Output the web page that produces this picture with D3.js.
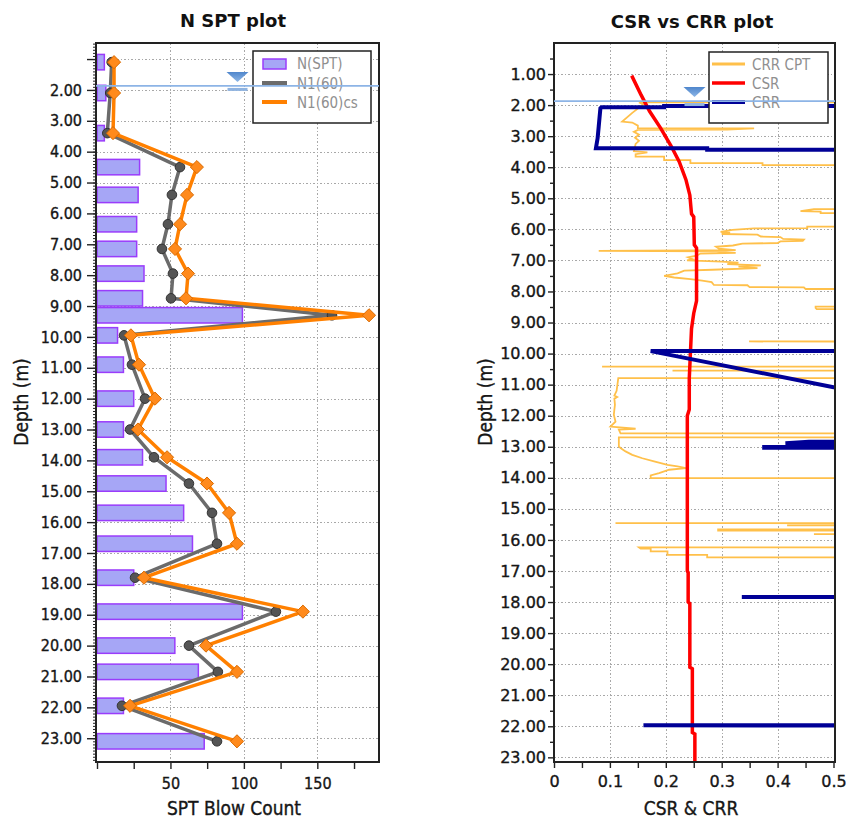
<!DOCTYPE html>
<html>
<head>
<meta charset="utf-8">
<script src="https://cdn.jsdelivr.net/npm/d3@7"></script>
<style>
  body { margin: 0; background: #fff; }
  svg { display: block; }
</style>
</head>
<body>
<svg id="chart" width="846" height="821"></svg>
<script>
// ---------------- SPT log ----------------
const sptDepth = [1.1, 2.1, 3.4, 4.5, 5.4, 6.35, 7.15, 7.95, 8.75, 9.3, 9.95, 10.9, 12.0, 13.0, 13.9, 14.75, 15.7, 16.7, 17.8, 18.9, 20.0, 20.85, 21.95, 23.1];
const nSPT   = [5, 6, 5, 29, 28, 27, 27, 32, 31, 99, 14, 18, 25, 18, 31, 47, 59, 65, 25, 99, 53, 69, 18, 73];
const n160   = [10, 9, 7, 56.5, 51, 48.3, 44.2, 51.7, 50.4, 160, 18.4, 23.8, 32.7, 22.5, 38.8, 62.6, 78.3, 81.7, 25.9, 121.8, 62.6, 82.3, 17, 81.7];
const n160cs = [11.6, 11.6, 10.9, 68, 61.3, 56.5, 53.1, 62, 60.6, 185.2, 23.1, 28.6, 39.5, 27.9, 47.7, 74.9, 89.9, 95.3, 32, 140.2, 74.2, 95.3, 22.5, 95.3];
const sptSeriesNames = ["N(SPT)", "N1(60)", "N1(60)cs"];

// depth axis: ticks every metre, first one unlabelled on the SPT plot
const depthTicks = d3.range(1, 24);
const sptDepthLabels = depthTicks.map(d => d === 1 ? "" : d3.format(".2f")(d));
const csrDepthLabels = depthTicks.map(d => d3.format(".2f")(d));
const blowTicks = [0, 25, 50, 75, 100, 125, 150, 175];
const blowLabels = { 50: "50", 100: "100", 150: "150" };
const ratioTicks = d3.range(0, 11).map(i => i * 0.05);
const ratioLabels = { 0: "0", 2: "0.1", 4: "0.2", 6: "0.3", 8: "0.4", 10: "0.5" };

// ground water table depth (m)
const gwtDepth = 1.87;

// ---------------- CSR / CRR profiles [depth m, ratio] ----------------
// ratios above the axis limit are stored as 2 (off scale)
const csrProfile = [
  [1.05, 0.139], [1.68, 0.156], [2.2, 0.171], [2.75, 0.191], [3.3, 0.209], [3.82, 0.224],
  [4.4, 0.236], [4.9, 0.243], [5.5, 0.246], [5.6, 0.250], [6.5, 0.251], [6.6, 0.255],
  [8.3, 0.255], [8.7, 0.250], [9.2, 0.246], [10.8, 0.242], [11.8, 0.242], [12.0, 0.2385],
  [17.0, 0.2385], [17.05, 0.240], [18.0, 0.240], [18.05, 0.243], [20.1, 0.243], [20.15, 0.2475],
  [22.2, 0.2475], [22.25, 0.252], [23.15, 0.252]
];

const crrProfile = [
  [2.03, 2], [2.03, 0.197], [2.07, 0.197], [2.07, 0.085], [2.10, 0.083], [2.69, 0.080], [3.07, 0.078],
  [3.39, 0.075], [3.39, 0.274], [3.44, 0.274], [3.44, 2],
  [9.92, 2], [9.92, 0.173], [11.08, 0.5], [11.10, 2],
  [12.84, 2], [12.84, 0.456], [12.89, 0.414], [12.895, 2], [13.01, 2], [13.01, 0.376], [13.03, 0.376], [13.035, 2],
  [17.84, 2], [17.84, 0.336], [17.85, 2],
  [21.97, 2], [21.97, 0.160], [21.98, 2]
];

const crrCptProfile = [
  [1.91, 2], [1.91, 0.152], [1.97, 0.160], [2.25, 0.140], [2.53, 0.122], [2.56, 0.140], [2.66, 0.150],
  [2.74, 0.150], [2.75, 0.358], [2.79, 0.310], [2.80, 0.150], [2.86, 0.143], [2.95, 0.152], [3.05, 0.145],
  [3.15, 0.152], [3.25, 0.146], [3.48, 0.143], [3.52, 0.167], [3.58, 0.146], [3.66, 0.146], [3.66, 0.197],
  [3.77, 0.197], [3.77, 0.244], [3.87, 0.244], [3.87, 0.373], [3.93, 0.373], [3.93, 2],
  [5.35, 2], [5.35, 0.465], [5.41, 0.441], [5.43, 0.477], [5.48, 0.477], [5.48, 2],
  [5.91, 2], [5.91, 0.453], [5.96, 0.453], [5.97, 0.358], [6.02, 0.319], [6.08, 0.298], [6.11, 0.315],
  [6.15, 0.300], [6.17, 0.364], [6.23, 0.370], [6.25, 0.405], [6.31, 0.410], [6.33, 0.447], [6.37, 0.445],
  [6.39, 0.405], [6.44, 0.400], [6.46, 0.337], [6.52, 0.320], [6.56, 0.290], [6.62, 0.295], [6.67, 0.325],
  [6.69, 0.080], [6.71, 0.290], [6.76, 0.325], [6.78, 0.262], [6.85, 0.255], [6.90, 0.240], [6.96, 0.248],
  [7.00, 0.238], [7.04, 0.300], [7.07, 0.330], [7.12, 0.310], [7.16, 0.370], [7.20, 0.330], [7.25, 0.364],
  [7.30, 0.283], [7.33, 0.233], [7.42, 0.221], [7.50, 0.197], [7.55, 0.215], [7.60, 0.244], [7.65, 0.265],
  [7.70, 0.282], [7.79, 0.286], [7.80, 0.346], [7.86, 0.350], [7.87, 0.447], [7.92, 0.450], [7.93, 2],
  [8.49, 2], [8.49, 0.468], [8.53, 0.468], [8.57, 0.470], [8.57, 2],
  [9.61, 2], [9.61, 0.349], [9.62, 2],
  [10.42, 2], [10.42, 0.086], [10.43, 2],
  [10.55, 2], [10.55, 0.212], [10.56, 2],
  [10.79, 2], [10.79, 0.115], [11.20, 0.112], [11.35, 0.108], [11.40, 0.113], [11.45, 0.108], [11.65, 0.109],
  [11.97, 0.107], [12.19, 0.110], [12.35, 0.101], [12.42, 0.146], [12.45, 0.116], [12.57, 0.119], [12.58, 2],
  [12.69, 2], [12.70, 0.116], [12.99, 0.116], [13.04, 0.119], [13.15, 0.128], [13.26, 0.140], [13.37, 0.158],
  [13.47, 0.179], [13.58, 0.203], [13.63, 0.221], [13.69, 0.236], [13.74, 0.206], [13.85, 0.188],
  [13.92, 0.173], [14.01, 0.173], [14.01, 2],
  [15.46, 2], [15.46, 0.110], [15.47, 2],
  [15.52, 2], [15.53, 0.417], [15.54, 2],
  [15.66, 2], [15.66, 0.292], [15.67, 2],
  [15.69, 2], [15.70, 0.292], [15.70, 0.420], [15.71, 2],
  [15.81, 2], [15.81, 0.465], [15.82, 2],
  [16.24, 2], [16.24, 0.152], [16.28, 0.155], [16.28, 0.173], [16.37, 0.173], [16.37, 0.203],
  [16.48, 0.203], [16.48, 0.274], [16.56, 0.274], [16.56, 2]
];
const ratioSeriesNames = ["CRR CPT", "CSR", "CRR"];

// ---------------- styling ----------------
const TICK_FONT = '"DejaVu Sans Condensed", "Liberation Sans", Arial, sans-serif';
const WIDE_FONT = '"DejaVu Sans", Verdana, sans-serif';
const C = {
  barFill: "#a6a6f6", barStroke: "#9a3cfb",
  n160: "#6b6b6b", n160Marker: "#555", n160cs: "#ff8000", n160csMarker: "#ff8a1c",
  cpt: "#ffc04a", csr: "#ff0000", crr: "#000096",
  grid: "#a8a8a8", frame: "#222", legendText: "#8f8f8f", water: "#8db4e6", text: "#161616"
};

const svg = d3.select("#chart");
const defs = svg.append("defs");
const grad = defs.append("linearGradient").attr("id", "wtGrad").attr("x1", 0).attr("x2", 0).attr("y1", 0).attr("y2", 1);
grad.append("stop").attr("offset", "0%").attr("stop-color", "#4f86cc");
grad.append("stop").attr("offset", "100%").attr("stop-color", "#8db6e6");

// plot boxes
const L = { x0: 96, x1: 379, y0: 43, y1: 762 };
const R = { x0: 554, x1: 835, y0: 43, y1: 762 };

const xN = d3.scaleLinear().domain([0, 192]).range([97, 379]);
const yL = d3.scaleLinear().domain([0.48, 23.77]).range([L.y0, L.y1]);
const xC = d3.scaleLinear().domain([0, 0.5]).range([554, 833.5]);
const yR = d3.scaleLinear().domain([0, 23.15]).range([R.y0, R.y1]);

function clip(id, b) {
  defs.append("clipPath").attr("id", id).append("rect")
    .attr("x", b.x0).attr("y", b.y0).attr("width", b.x1 - b.x0).attr("height", b.y1 - b.y0);
}
clip("clipL", L);
clip("clipR", R);

// dark text with a hairline outline so the labels read as heavy as the originals
function inkText(sel, font, size) {
  sel.attr("font-family", font).attr("font-size", size).attr("fill", C.text)
    .attr("stroke", C.text).attr("stroke-width", 0.35);
}

function styleAxis(g, font, size) {
  g.select(".domain").remove();
  g.selectAll(".tick line").attr("stroke", C.frame).attr("stroke-width", 1.4);
  inkText(g.selectAll(".tick text"), font, size);
}

function gridLines(g, b, xs, ys, xScale, yScale) {
  const gg = g.append("g").attr("stroke", C.grid).attr("stroke-width", 1)
    .attr("stroke-dasharray", "1.5,2").attr("shape-rendering", "crispEdges");
  gg.selectAll(".gy").data(ys).join("line")
    .attr("x1", b.x0).attr("x2", b.x1).attr("y1", d => Math.round(yScale(d)) + 0.5).attr("y2", d => Math.round(yScale(d)) + 0.5);
  gg.selectAll(".gx").data(xs).join("line")
    .attr("y1", b.y0).attr("y2", b.y1).attr("x1", d => Math.round(xScale(d)) + 0.5).attr("x2", d => Math.round(xScale(d)) + 0.5);
}

function waterTable(g, b, depth, yScale) {
  const y = yScale(depth);
  const cx = (b.x0 + b.x1) / 2;
  g.append("path")
    .attr("d", `M${cx - 11},${y - 14} L${cx + 11},${y - 14} L${cx},${y - 4} Z`)
    .attr("fill", "url(#wtGrad)");
  g.append("rect").attr("x", cx - 10).attr("y", y + 2).attr("width", 20).attr("height", 3)
    .attr("fill", "#8fb3e0");
  g.append("line").attr("x1", b.x0).attr("x2", b.x1).attr("y1", y).attr("y2", y)
    .attr("stroke", C.water).attr("stroke-width", 1.6);
}

// =============== N SPT plot ===============
const gL = svg.append("g");
gridLines(gL, L, [50, 100, 150], depthTicks, xN, yL);

const plotL = gL.append("g").attr("clip-path", "url(#clipL)");
const half = 0.25;
plotL.selectAll("rect.bar").data(sptDepth).join("rect").attr("class", "bar")
  .attr("x", xN(0))
  .attr("y", d => yL(d - half))
  .attr("width", (d, i) => xN(nSPT[i]) - xN(0))
  .attr("height", d => yL(d + half) - yL(d - half))
  .attr("fill", C.barFill).attr("stroke", C.barStroke).attr("stroke-width", 1.5);

const lineL = d3.line().x(d => xN(d[1])).y(d => yL(d[0]));
const n160Pts = sptDepth.map((d, i) => [d, n160[i]]);
const n160csPts = sptDepth.map((d, i) => [d, n160cs[i]]);

plotL.append("path").datum(n160Pts).attr("d", lineL)
  .attr("fill", "none").attr("stroke", C.n160).attr("stroke-width", 3.5).attr("stroke-linejoin", "round");
plotL.selectAll("circle.n160").data(n160Pts).join("circle").attr("class", "n160")
  .attr("cx", d => xN(d[1])).attr("cy", d => yL(d[0])).attr("r", 4.8)
  .attr("fill", C.n160Marker).attr("stroke", "#333").attr("stroke-width", 1);

plotL.append("path").datum(n160csPts).attr("d", lineL)
  .attr("fill", "none").attr("stroke", C.n160cs).attr("stroke-width", 3.5).attr("stroke-linejoin", "round");
const diamond = d3.symbol().type(d3.symbolDiamond2).size(110);
plotL.selectAll("path.n160cs").data(n160csPts).join("path").attr("class", "n160cs")
  .attr("transform", d => `translate(${xN(d[1])},${yL(d[0])})`)
  .attr("d", diamond)
  .attr("fill", C.n160csMarker).attr("stroke", "#d96a00").attr("stroke-width", 1);

// axes
const axLY = gL.append("g").attr("transform", `translate(${L.x0},0)`)
  .call(d3.axisLeft(yL).tickValues(depthTicks).tickFormat((d, i) => sptDepthLabels[i]).tickSize(9).tickPadding(5));
styleAxis(axLY, TICK_FONT, 16);
const axLYm = gL.append("g").attr("transform", `translate(${L.x0},0)`)
  .call(d3.axisLeft(yL).tickValues(d3.range(5, 238).map(i => i / 10)).tickFormat("").tickSize(3));
styleAxis(axLYm, TICK_FONT, 16);
axLYm.selectAll(".tick line").attr("stroke-width", 1);

const axLX = gL.append("g").attr("transform", `translate(0,${L.y1})`)
  .call(d3.axisBottom(xN).tickValues(blowTicks).tickFormat(d => blowLabels[d] || "").tickSize(7).tickPadding(9));
styleAxis(axLX, TICK_FONT, 16);

gL.append("rect").attr("x", L.x0).attr("y", L.y0).attr("width", L.x1 - L.x0).attr("height", L.y1 - L.y0)
  .attr("fill", "none").attr("stroke", C.frame).attr("stroke-width", 2);

// legend
const legL = gL.append("g").attr("transform", "translate(253,51)");
legL.append("rect").attr("width", 118).attr("height", 72).attr("fill", "#fff")
  .attr("stroke", C.frame).attr("stroke-width", 1.5);
legL.append("rect").attr("x", 10).attr("y", 8).attr("width", 23).attr("height", 10)
  .attr("fill", C.barFill).attr("stroke", C.barStroke).attr("stroke-width", 1.5);
legL.append("line").attr("x1", 9).attr("x2", 34).attr("y1", 32).attr("y2", 32)
  .attr("stroke", C.n160).attr("stroke-width", 4);
legL.append("line").attr("x1", 9).attr("x2", 34).attr("y1", 51).attr("y2", 51)
  .attr("stroke", C.n160cs).attr("stroke-width", 4);
legL.selectAll("text").data(sptSeriesNames).join("text")
  .attr("x", 44).attr("y", (d, i) => 18 + i * 19.5)
  .attr("font-family", TICK_FONT).attr("font-size", 15).attr("fill", C.legendText)
  .text(d => d);

waterTable(gL, L, gwtDepth, yL);

// titles
gL.append("text").attr("x", 233).attr("y", 27).attr("text-anchor", "middle")
  .attr("font-family", WIDE_FONT).attr("font-weight", "bold").attr("font-size", 18).attr("fill", "#111")
  .text("N SPT plot");
gL.append("text").attr("x", 234).attr("y", 815).attr("text-anchor", "middle")
  .call(inkText, TICK_FONT, 19)
  .text("SPT Blow Count");
gL.append("text").attr("transform", `translate(28,402) rotate(-90)`).attr("text-anchor", "middle")
  .call(inkText, TICK_FONT, 19)
  .text("Depth (m)");

// =============== CSR vs CRR plot ===============
const gR = svg.append("g");
gridLines(gR, R, [0.1, 0.2, 0.3, 0.4], depthTicks, xC, yR);

const plotR = gR.append("g").attr("clip-path", "url(#clipR)");
const lineR = d3.line().x(d => xC(d[1])).y(d => yR(d[0]));
plotR.append("path").datum(crrCptProfile).attr("d", lineR)
  .attr("fill", "none").attr("stroke", C.cpt).attr("stroke-width", 1.8).attr("stroke-linejoin", "miter");
plotR.append("path").datum(csrProfile).attr("d", lineR)
  .attr("fill", "none").attr("stroke", C.csr).attr("stroke-width", 3.5);
plotR.append("path").datum(crrProfile).attr("d", lineR)
  .attr("fill", "none").attr("stroke", C.crr).attr("stroke-width", 4);

const axRY = gR.append("g").attr("transform", `translate(${R.x0},0)`)
  .call(d3.axisLeft(yR).tickValues(depthTicks).tickFormat((d, i) => csrDepthLabels[i]).tickSize(6).tickPadding(2));
styleAxis(axRY, WIDE_FONT, 16);
const axRYm = gR.append("g").attr("transform", `translate(${R.x0},0)`)
  .call(d3.axisLeft(yR).tickValues(d3.range(0, 23).map(i => i + 0.5)).tickFormat("").tickSize(4));
styleAxis(axRYm, WIDE_FONT, 16);

const axRX = gR.append("g").attr("transform", `translate(0,${R.y1})`)
  .call(d3.axisBottom(xC).tickValues(ratioTicks).tickFormat((d, i) => ratioLabels[i] || "").tickSize(6).tickPadding(8));
styleAxis(axRX, WIDE_FONT, 16);

gR.append("rect").attr("x", R.x0).attr("y", R.y0).attr("width", R.x1 - R.x0).attr("height", R.y1 - R.y0)
  .attr("fill", "none").attr("stroke", C.frame).attr("stroke-width", 2);

const legR = gR.append("g").attr("transform", "translate(709,52)");
legR.append("rect").attr("width", 119).attr("height", 71).attr("fill", "#fff")
  .attr("stroke", C.frame).attr("stroke-width", 1.5);
const legColors = [C.cpt, C.csr, C.crr];
const legWidths = [3, 3.5, 4];
legR.selectAll("line").data(ratioSeriesNames).join("line")
  .attr("x1", 3).attr("x2", 36).attr("y1", (d, i) => 12 + i * 19).attr("y2", (d, i) => 12 + i * 19)
  .attr("stroke", (d, i) => legColors[i]).attr("stroke-width", (d, i) => legWidths[i]);
legR.selectAll("text").data(ratioSeriesNames).join("text")
  .attr("x", 43).attr("y", (d, i) => 18 + i * 19)
  .attr("font-family", TICK_FONT).attr("font-size", 15).attr("fill", C.legendText)
  .text(d => d);

waterTable(gR, R, gwtDepth, yR);

gR.append("text").attr("x", 692).attr("y", 28).attr("text-anchor", "middle")
  .attr("font-family", WIDE_FONT).attr("font-weight", "bold").attr("font-size", 18).attr("fill", "#111")
  .text("CSR vs CRR plot");
gR.append("text").attr("x", 691).attr("y", 815).attr("text-anchor", "middle")
  .call(inkText, TICK_FONT, 19)
  .text("CSR & CRR");
gR.append("text").attr("transform", `translate(492,402) rotate(-90)`).attr("text-anchor", "middle")
  .call(inkText, TICK_FONT, 19)
  .text("Depth (m)");
</script>
</body>
</html>
